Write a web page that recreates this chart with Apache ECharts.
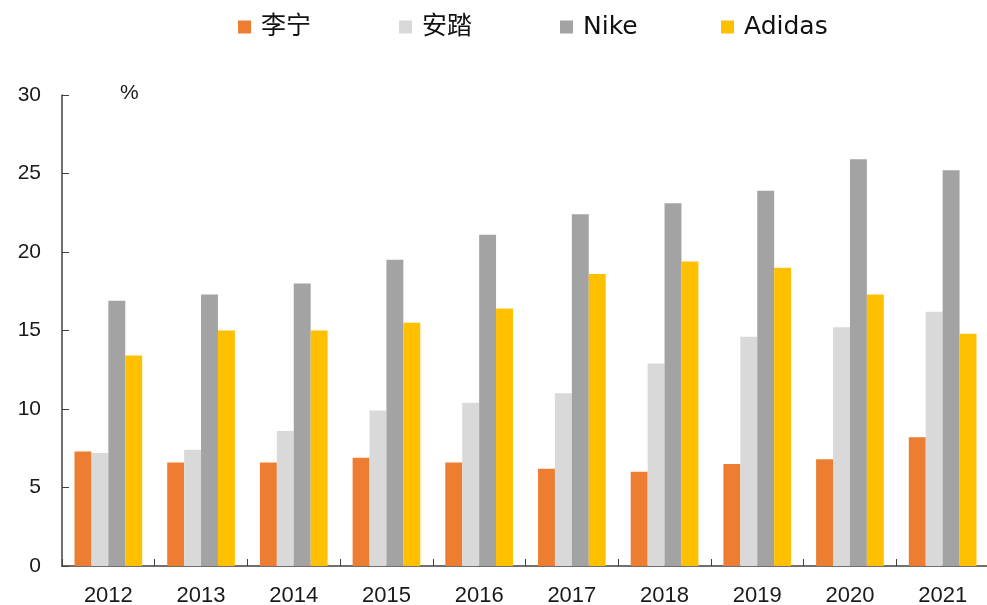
<!DOCTYPE html>
<html>
<head>
<meta charset="utf-8">
<title>李宁 安踏 Nike Adidas</title>
<script src="https://cdn.jsdelivr.net/npm/echarts@6/dist/echarts.min.js"></script>
<style>
  html, body { margin: 0; padding: 0; background: #fff; }
  #chart { width: 987px; height: 605px; }
</style>
</head>
<body>
<div id="chart"></div>
<script>
const years = ['2012', '2013', '2014', '2015', '2016', '2017', '2018', '2019', '2020', '2021'];
const liNing = [7.3, 6.6, 6.6, 6.9, 6.6, 6.2, 6.0, 6.5, 6.8, 8.2];
const anta = [7.2, 7.4, 8.6, 9.9, 10.4, 11.0, 12.9, 14.6, 15.2, 16.2];
const nike = [16.9, 17.3, 18.0, 19.5, 21.1, 22.4, 23.1, 23.9, 25.9, 25.2];
const adidas = [13.4, 15.0, 15.0, 15.5, 16.4, 18.6, 19.4, 19.0, 17.3, 14.8];
const yTicks = { min: 0, max: 30, interval: 5 };

const chart = echarts.init(document.getElementById('chart'));

const axisColor = '#404040';
const textColor = '#1a1a1a';
const latin = 'Liberation Sans, Arial, sans-serif';

const mkSeries = (name, data, color) => ({
  name,
  type: 'bar',
  data,
  barGap: 0,
  barCategoryGap: '27%',
  itemStyle: { color },
  emphasis: { disabled: true },
});

const option = {
  animation: false,
  legend: {
    left: 238,
    top: 14,
    padding: 0,
    itemGap: 0,
    itemWidth: 13,
    itemHeight: 13,
    icon: 'rect',
    textStyle: {
      fontFamily: 'DejaVu Sans, Noto Sans CJK SC, sans-serif',
      fontSize: 25,
      lineHeight: 26,
      color: '#111',
      width: 138,
      padding: [0, 0, 0, 5],
    },
    data: ['李宁', '安踏', 'Nike', 'Adidas'],
  },
  grid: { left: 62, right: -2, top: 95, bottom: 39, outerBoundsMode: 'none' },
  xAxis: {
    type: 'category',
    data: years,
    axisLine: { lineStyle: { color: axisColor, width: 1.5 } },
    axisTick: { show: true, inside: true, length: 7, alignWithLabel: false, lineStyle: { color: axisColor } },
    axisLabel: { color: textColor, fontSize: 22, fontFamily: latin, margin: 19 },
  },
  yAxis: {
    type: 'value',
    min: yTicks.min,
    max: yTicks.max,
    interval: yTicks.interval,
    name: '%',
    nameLocation: 'end',
    nameGap: 2,
    nameTextStyle: { color: textColor, fontSize: 21, fontFamily: latin, align: 'left', verticalAlign: 'middle', padding: [0, 0, 0, 58] },
    axisLine: { show: true, lineStyle: { color: axisColor, width: 1.5 } },
    axisTick: { show: true, inside: true, length: 7, lineStyle: { color: axisColor } },
    axisLabel: { color: textColor, fontSize: 21, fontFamily: latin, margin: 21 },
    splitLine: { show: false },
  },
  series: [
    mkSeries('李宁', liNing, '#ED7D31'),
    mkSeries('安踏', anta, '#D9D9D9'),
    mkSeries('Nike', nike, '#A3A3A3'),
    mkSeries('Adidas', adidas, '#FFC000'),
  ],
};

chart.setOption(option);
window.addEventListener('resize', () => chart.resize());
</script>
</body>
</html>
